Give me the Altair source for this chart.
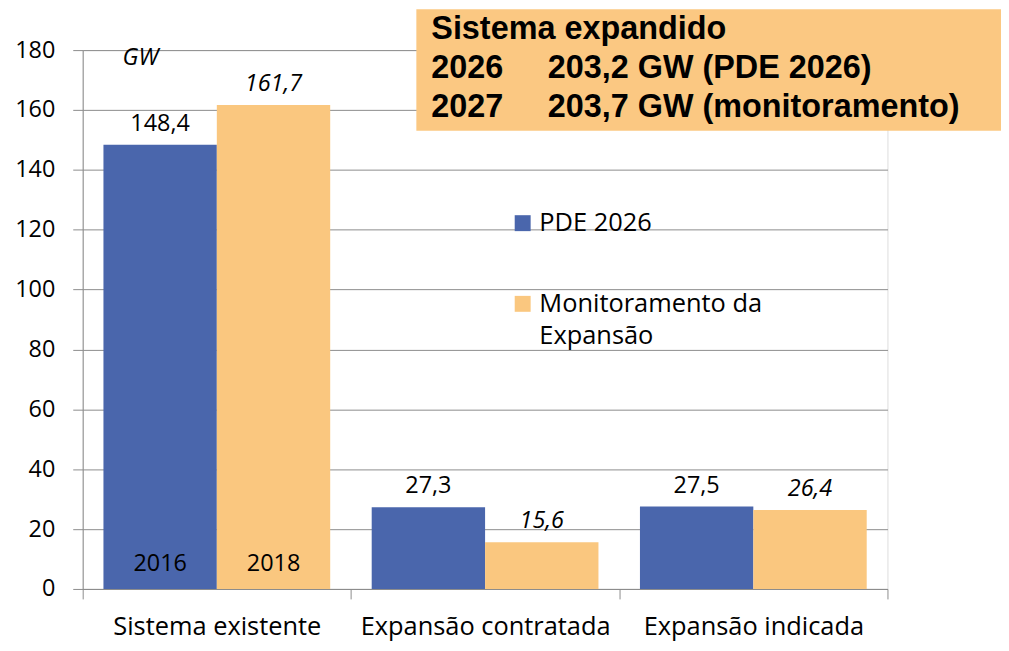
import altair as alt
import pandas as pd

categories = ["Sistema existente", "Expansão contratada", "Expansão indicada"]
series = ["PDE 2026", "Monitoramento da Expansão"]
pde_values = [148.4, 27.3, 27.5]
mon_values = [161.7, 15.6, 26.4]
pde_labels = ["148,4", "27,3", "27,5"]
mon_labels = ["161,7", "15,6", "26,4"]
year_labels = ["2016", "2018"]
y_ticks = [0, 20, 40, 60, 80, 100, 120, 140, 160, 180]
box_lines = ["Sistema expandido", "2026", "2027"]
box_values = ["", "203,2 GW (PDE 2026)", "203,7 GW (monitoramento)"]

BLUE = "#4A66AC"
ORANGE = "#FAC77F"
GRID = "#8C8C8C"
FONT = "Open Sans"
FS = 23.5

rows = []
for i, c in enumerate(categories):
    rows.append({"cat": c, "series": series[0], "value": pde_values[i], "label": pde_labels[i]})
    rows.append({"cat": c, "series": series[1], "value": mon_values[i], "label": mon_labels[i]})
df = pd.DataFrame(rows)

years_df = pd.DataFrame({"cat": [categories[0]] * 2, "series": series, "year": year_labels})

W, H = 808, 541

x_enc = alt.X("cat:N", sort=categories,
              scale=alt.Scale(paddingInner=0, paddingOuter=0),
              axis=alt.Axis(title=None, labelAngle=0, tickBand="extent", grid=False,
                            domainColor=GRID, tickColor=GRID, tickSize=10,
                            labelFont=FONT, labelFontSize=25.5, labelColor="#000000",
                            labelPadding=16, labelLimit=400))
xo_enc = alt.XOffset("series:N", sort=series,
                     scale=alt.Scale(paddingInner=0, paddingOuter=0.183))
y_enc = alt.Y("value:Q", scale=alt.Scale(domain=[0, 180]),
              axis=alt.Axis(title=None, values=y_ticks, grid=True, gridColor=GRID,
                            domainColor=GRID, tickColor=GRID, tickSize=10,
                            labelFont=FONT, labelFontSize=FS, labelColor="#000000",
                            labelPadding=18))

bars = alt.Chart(df).mark_bar().encode(
    x=x_enc, xOffset=xo_enc, y=y_enc,
    color=alt.Color("series:N", sort=series,
                    scale=alt.Scale(domain=series, range=[BLUE, ORANGE]),
                    legend=alt.Legend(title=None, orient="none", legendX=429, legendY=161,
                                      symbolType="square", symbolSize=256, symbolStrokeWidth=0,
                                      labelFont=FONT, labelFontSize=25.5, labelColor="#000000",
                                      labelOffset=4, rowPadding=54, labelLimit=400,
                                      labelExpr="datum.label == 'Monitoramento da Expansão' ? ['Monitoramento da', 'Expansão'] : datum.label"))
)

lbl_pde = alt.Chart(df).transform_filter(alt.datum.series == series[0]).mark_text(
    font=FONT, fontSize=FS, dy=-14, baseline="alphabetic", color="#000000"
).encode(x=alt.X("cat:N", sort=categories), xOffset=alt.XOffset("series:N", sort=series),
         y="value:Q", text="label:N")

lbl_mon = alt.Chart(df).transform_filter(alt.datum.series == series[1]).mark_text(
    font=FONT, fontSize=FS, dy=-14, baseline="alphabetic", fontStyle="italic", color="#000000"
).encode(x=alt.X("cat:N", sort=categories), xOffset=alt.XOffset("series:N", sort=series),
         y="value:Q", text="label:N")

yrs = alt.Chart(years_df).mark_text(
    font=FONT, fontSize=FS, baseline="alphabetic", dy=-18, color="#000000"
).encode(x=alt.X("cat:N", sort=categories), xOffset=alt.XOffset("series:N", sort=series),
         y=alt.datum(0), text="year:N")

gw = alt.Chart(pd.DataFrame({"t": ["GW"]})).mark_text(
    font=FONT, fontSize=FS, fontStyle="italic", align="left", baseline="middle", color="#000000"
).encode(x=alt.value(40), y=alt.value(8), text="t:N")

box = alt.Chart(pd.DataFrame({"a": [1]})).mark_rect(color="#FBC882").encode(
    x=alt.value(335), x2=alt.value(922), y=alt.value(-41), y2=alt.value(81))

box_df = pd.DataFrame({"line": box_lines, "val": box_values, "i": [0, 1, 2]})
baselines = [-11, 28.5, 67]
box_layers = []
for i, yb in enumerate(baselines):
    for col, xp in (("line", 350), ("val", 467)):
        box_layers.append(
            alt.Chart(box_df).transform_filter(alt.datum.i == i).mark_text(
                font="Liberation Sans", fontSize=32.5, fontWeight="bold", align="left",
                baseline="alphabetic", color="#000000"
            ).encode(x=alt.value(xp), y=alt.value(yb), text=f"{col}:N")
        )

chart = alt.layer(bars, lbl_pde, lbl_mon, yrs, gw, box, *box_layers).properties(
    width=W, height=H,
    autosize=alt.AutoSizeParams(type="none"),
    padding={"left": 75, "top": 41, "right": 114, "bottom": 54},
).configure_view(stroke=None).configure(
    background="white",
    style={"guide-label": {"lineHeight": 32}},
)

chart.save("out.html", embed_options={"renderer": "svg", "actions": False})
